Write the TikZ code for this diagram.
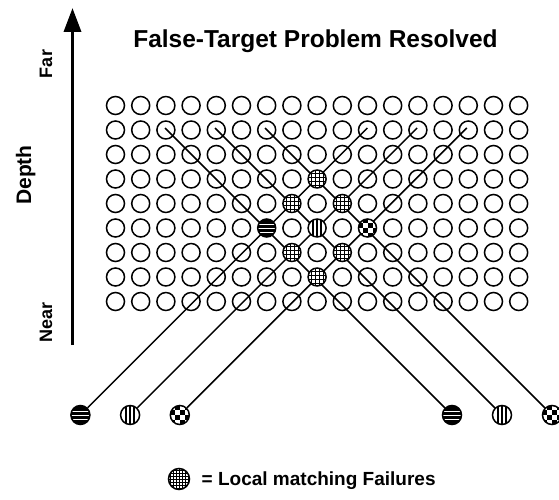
\documentclass[tikz,border=0pt]{standalone}
\usepackage{fontspec}
\setmainfont{Liberation Sans}
\usetikzlibrary{arrows.meta}

\newcommand{\gx}[1]{115.5+25.2*#1}
\newcommand{\gy}[1]{105.5+24.5*#1}

\begin{document}
\begin{tikzpicture}[x=1pt,y=-1pt,
  ring/.style={circle,draw,line width=1.5pt,minimum size=18pt,inner sep=0pt},
  bigring/.style={ring,minimum size=19pt},
  gridfill/.style={fill=white,path picture={
      \foreach \d in {-6,-2,2,6}{
        \draw[line width=0.8pt] ([xshift=\d pt]path picture bounding box.north) -- ([xshift=\d pt]path picture bounding box.south);
        \draw[line width=0.8pt] ([yshift=\d pt]path picture bounding box.west) -- ([yshift=\d pt]path picture bounding box.east);
      }}},
  keyfill/.style={fill=white,path picture={
      \foreach \d in {-9,-6,-3,0,3,6,9}{
        \draw[line width=0.7pt] ([xshift=\d pt]path picture bounding box.north) -- ([xshift=\d pt]path picture bounding box.south);
        \draw[line width=0.7pt] ([yshift=\d pt]path picture bounding box.west) -- ([yshift=\d pt]path picture bounding box.east);
      }}},
  hstripe/.style={fill=black,path picture={
      \foreach \d in {-4,0,4}
        \draw[white,line width=0.9pt] ([yshift=\d pt]path picture bounding box.west) -- ([yshift=\d pt]path picture bounding box.east);
      }},
  vstripe/.style={fill=white,path picture={
      \foreach \d in {-4,0,4}
        \draw[line width=1.9pt] ([xshift=\d pt]path picture bounding box.north) -- ([xshift=\d pt]path picture bounding box.south);
      }},
  checker/.style={fill=white,path picture={
      \foreach \i/\j in {-10/-10,0/-10,-5/-5,5/-5,-10/0,0/0,-5/5,5/5}
        \fill[black] ([xshift=\i pt,yshift=\j pt]path picture bounding box.center) rectangle ++(5pt,5pt);
      }},
  ray/.style={line width=1.5pt},
  label/.style={inner sep=0pt,font=\bfseries}
]
\useasboundingbox (0,0) rectangle (559,500);

% title
\node[label,font=\fontsize{24.5}{28}\selectfont\bfseries,anchor=base] (title) at (315.5,48) {False-Target Problem Resolved};

% depth axis
\coordinate (axlow) at (72.5,345);
\coordinate (axhigh) at (72.5,8);
\draw[line width=3.5pt,-{Triangle[length=24pt,width=17pt]}] (axlow) -- (axhigh);
\node[label,font=\fontsize{18}{22}\selectfont\bfseries,rotate=90,anchor=base] (far) at (52,64) {Far};
\node[label,font=\fontsize{18}{22}\selectfont\bfseries,rotate=90,anchor=base] (near) at (52,322.5) {Near};
\node[label,font=\fontsize{21}{25}\selectfont\bfseries,rotate=90,anchor=base] (depth) at (31,175) {Depth};

% plain cells of the disparity grid
\foreach \c in {0,...,16}{
  \foreach \r in {0,...,8}{
    \pgfmathtruncatemacro\dist{abs(\c-8)+abs(\r-5)}
    \ifnum\dist=0 \else\ifnum\dist=2 \else
      \node[ring] (g-\c-\r) at ({\gx{\c}},{\gy{\r}}) {};
    \fi\fi
  }}

% left-eye features
\node[bigring,hstripe] (L1) at (80.4,415) {};
\node[bigring,vstripe] (L2) at (130.1,415) {};
\node[bigring,checker] (L3) at (179.8,415) {};
% right-eye features
\node[bigring,hstripe] (R1) at (452,415) {};
\node[bigring,vstripe] (R2) at (502,415) {};
\node[bigring,checker] (R3) at (552,415) {};

% lines of sight
\coordinate (L1e) at (367.4,128);
\coordinate (L2e) at (417.1,128);
\coordinate (L3e) at (466.8,128);
\coordinate (R1e) at (165,128);
\coordinate (R2e) at (215,128);
\coordinate (R3e) at (265,128);
\foreach \n in {L1,L2,L3,R1,R2,R3}
  \draw[ray] (\n) -- (\n e);

% correct matches
\node[ring,hstripe] (g-6-5) at ({\gx{6}},{\gy{5}}) {};
\node[ring,vstripe] (g-8-5) at ({\gx{8}},{\gy{5}}) {};
\node[ring,checker] (g-10-5) at ({\gx{10}},{\gy{5}}) {};
% false matches
\foreach \c/\r in {8/3,7/4,9/4,7/6,9/6,8/7}
  \node[ring,gridfill] (g-\c-\r) at ({\gx{\c}},{\gy{\r}}) {};

% key
\node[ring,minimum size=21pt,keyfill] (key) at (179,479) {};
\node[label,font=\fontsize{19}{23}\selectfont\bfseries,anchor=base west] (keytext) at (201.5,485) {= Local matching Failures};
\end{tikzpicture}
\end{document}
